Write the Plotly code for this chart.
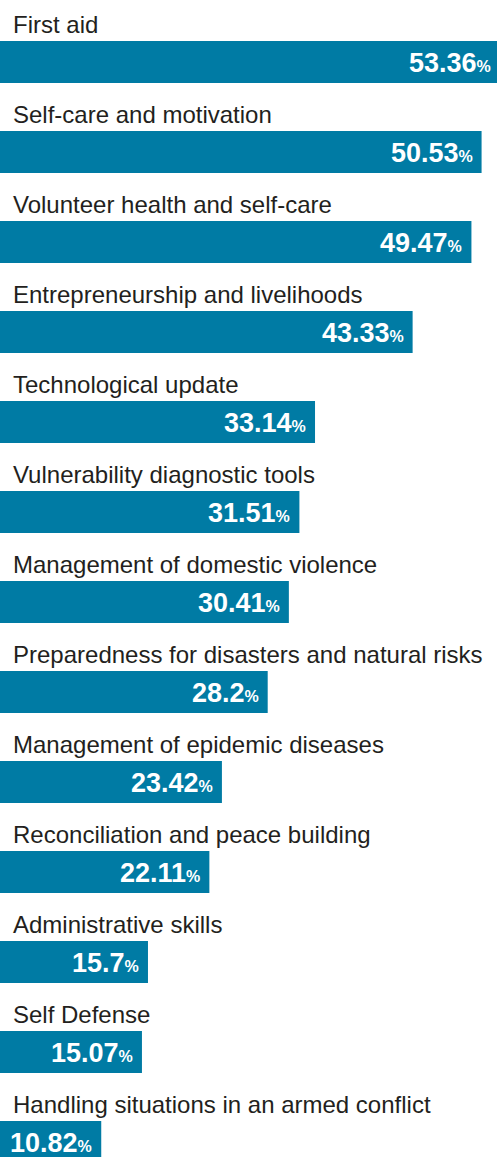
import plotly.graph_objects as go

categories = [
    "First aid",
    "Self-care and motivation",
    "Volunteer health and self-care",
    "Entrepreneurship and livelihoods",
    "Technological update",
    "Vulnerability diagnostic tools",
    "Management of domestic violence",
    "Preparedness for disasters and natural risks",
    "Management of epidemic diseases",
    "Reconciliation and peace building",
    "Administrative skills",
    "Self Defense",
    "Handling situations in an armed conflict",
]
values = [53.36, 50.53, 49.47, 43.33, 33.14, 31.51, 30.41, 28.2, 23.42, 22.11, 15.7, 15.07, 10.82]
value_labels = ["53.36", "50.53", "49.47", "43.33", "33.14", "31.51", "30.41", "28.2",
                "23.42", "22.11", "15.7", "15.07", "10.82"]

BAR_COLOR = "#007ba4"
TEXT_COLOR = "#231f20"
X_MIN, X_MAX = 0.25, 52.14

fig = go.Figure()
fig.add_trace(go.Bar(
    x=values,
    y=categories,
    orientation="h",
    marker=dict(color=BAR_COLOR, line=dict(width=0)),
    hoverinfo="skip",
))

annotations = []
for cat, v, lab in zip(categories, values, value_labels):
    annotations.append(dict(
        x=0, y=cat, xref="paper", yref="y",
        text=cat, showarrow=False,
        xanchor="left", yanchor="bottom",
        xshift=11, yshift=22,
        font=dict(family="Liberation Sans, Arial, sans-serif", size=24, color=TEXT_COLOR),
    ))
    clipped = v > X_MAX
    annotations.append(dict(
        x=min(v, X_MAX), y=cat, xref="x", yref="y",
        text=f"<b>{lab}</b><span style='font-size:16px'><b>%</b></span>",
        showarrow=False,
        xanchor="right", yanchor="middle",
        xshift=-4 if clipped else -7, yshift=-1,
        font=dict(family="Liberation Sans, Arial, sans-serif",
                  size=27, color="white"),
    ))

fig.update_layout(
    width=497, height=1157,
    margin=dict(l=0, r=0, t=0, b=0),
    paper_bgcolor="white", plot_bgcolor="white",
    bargap=0.5333,
    showlegend=False,
    annotations=annotations,
    xaxis=dict(range=[X_MIN, X_MAX], visible=False, fixedrange=True),
    yaxis=dict(type="category", categoryarray=categories,
               range=[(1157 - 62) / 90, -62 / 90],
               visible=False, fixedrange=True),
)

fig.write_html("out.html", config={"displayModeBar": False},
               post_script="document.body.style.margin='0';document.body.style.overflow='hidden';")
